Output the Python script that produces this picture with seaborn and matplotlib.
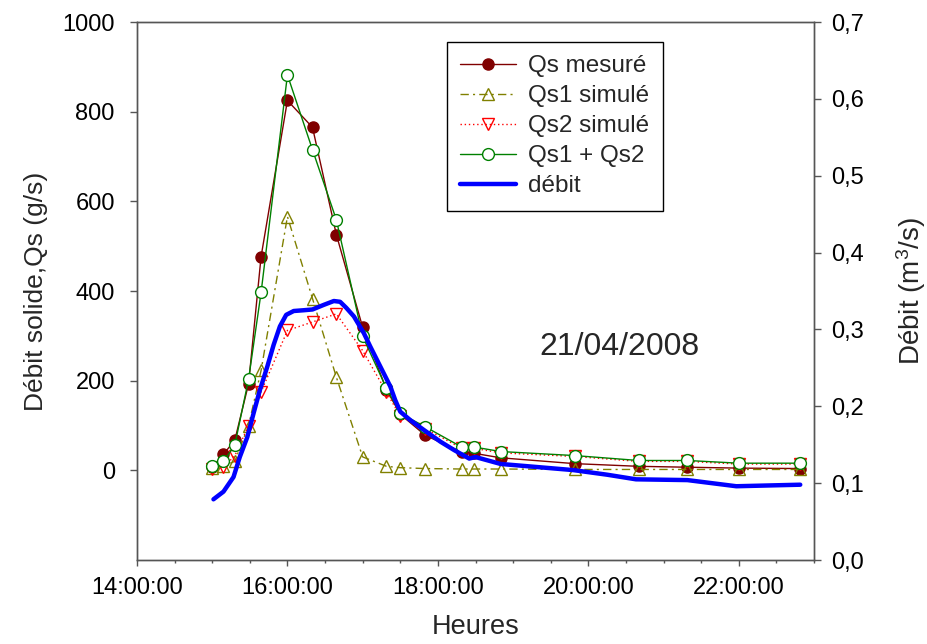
import pandas as pd
import seaborn as sns
import matplotlib.pyplot as plt
import matplotlib.dates as mdates
from matplotlib.ticker import FuncFormatter

sns.set_style("ticks")
plt.rcParams['font.family'] = ['Liberation Sans', 'DejaVu Sans']
plt.rcParams['font.size'] = 17
plt.rcParams['mathtext.fontset'] = 'custom'
plt.rcParams['mathtext.rm'] = 'Liberation Sans'
plt.rcParams['mathtext.default'] = 'rm'

jour = "2008-04-21"

# prelevements (g/s)
heures_qs = ["15:00", "15:09", "15:18", "15:29", "15:39", "16:00", "16:20", "16:39", "17:00", "17:19",
             "17:30", "17:50", "18:19", "18:29", "18:50", "19:49", "20:40", "21:19", "22:00", "22:49"]
qs_mesure = [7, 36, 67, 193, 477, 825, 765, 526, 319, 180, 125, 78, 41, 38, 28, 15, 9, 7, 5, 4]
qs1_simule = [5, 10, 20, 100, 223, 566, 383, 208, 30, 9, 6, 4, 3, 3, 3, 2, 2, 2, 2, 2]
qs2_simule = [3, 8, 32, 100, 175, 312, 331, 349, 267, 174, 121, 93, 49, 49, 39, 31, 20, 20, 14, 14]
qs1_qs2 = [9, 20, 56, 203, 397, 882, 715, 559, 299, 183, 127, 97, 52, 52, 42, 33, 22, 22, 16, 16]

# debit liquide (m3/s)
heures_debit = ["15:01", "15:09", "15:17", "15:22", "15:28", "15:33", "15:38", "15:44", "15:49", "15:54",
                "15:59", "16:05", "16:13", "16:20", "16:29", "16:37", "16:42", "16:47", "16:53", "17:01",
                "17:06", "17:14", "17:22", "17:26", "17:30", "17:38", "17:49", "18:02", "18:13", "18:25",
                "18:30", "18:50", "19:48", "20:15", "20:38", "21:19", "21:58", "22:49"]
debit = [0.079, 0.089, 0.108, 0.134, 0.160, 0.191, 0.221, 0.252, 0.280, 0.304,
         0.319, 0.324, 0.325, 0.326, 0.332, 0.337, 0.336, 0.328, 0.317, 0.295,
         0.278, 0.252, 0.226, 0.208, 0.193, 0.182, 0.169, 0.154, 0.143, 0.132,
         0.134, 0.125, 0.117, 0.111, 0.105, 0.104, 0.096, 0.098]

t_qs = pd.to_datetime([jour + " " + h for h in heures_qs])
t_debit = pd.to_datetime([jour + " " + h for h in heures_debit])

fig, ax = plt.subplots(figsize=(9.28, 6.44), dpi=100)
fig.subplots_adjust(left=0.1476, right=0.8772, bottom=0.1304, top=0.9658)

sns.lineplot(x=t_qs, y=qs_mesure, ax=ax, color='#800000', lw=1, marker='o', markersize=8,
             markerfacecolor='#800000', markeredgecolor='#800000', markeredgewidth=1, label='Qs mesuré', legend=False)
sns.lineplot(x=t_qs, y=qs1_simule, ax=ax, color='#808000', lw=1, linestyle=(0, (6, 3, 1.5, 3)), marker='^',
             markersize=9, markerfacecolor='none', markeredgecolor='#808000', markeredgewidth=1,
             label='Qs1 simulé', legend=False)
sns.lineplot(x=t_qs, y=qs2_simule, ax=ax, color='#ff0000', lw=1, linestyle=(0, (1, 2)), marker='v',
             markersize=9, markerfacecolor='none', markeredgecolor='#ff0000', markeredgewidth=1,
             label='Qs2 simulé', legend=False)
sns.lineplot(x=t_qs, y=qs1_qs2, ax=ax, color='#008000', lw=1, marker='o', markersize=8.5,
             markerfacecolor='white', markeredgecolor='#008000', markeredgewidth=1, label='Qs1 + Qs2', legend=False)

ax2 = ax.twinx()
sns.lineplot(x=t_debit, y=debit, ax=ax2, color='#0000ff', lw=3.2, label='débit', legend=False)

ax.set_xlim(pd.Timestamp(jour + " 14:00"), pd.Timestamp(jour + " 23:00"))
ax.xaxis.set_major_locator(mdates.HourLocator(byhour=range(14, 24, 2)))
ax.xaxis.set_minor_locator(mdates.MinuteLocator(byminute=[0, 30]))
ax.xaxis.set_major_formatter(mdates.DateFormatter('%H:%M:%S'))

ax.set_ylim(-200, 1000)
ax.set_yticks(range(0, 1001, 200))
ax2.set_ylim(0, 0.7)
ax2.set_yticks([i / 10 for i in range(8)])
ax2.yaxis.set_major_formatter(FuncFormatter(lambda v, p: f"{v:.1f}".replace('.', ',')))

for a in (ax, ax2):
    for s in a.spines.values():
        s.set_color('#555555')
        s.set_linewidth(1)
    a.tick_params(colors='#555555', labelcolor='black', labelsize=17, width=1)
ax.tick_params(axis='y', length=5, pad=11)
ax.tick_params(axis='x', which='major', length=4, pad=8)
ax.tick_params(axis='x', which='minor', length=2.5, width=1, color='#555555')
ax2.tick_params(axis='y', length=5, pad=7)

ax.set_xlabel("Heures", fontsize=19.5, labelpad=11)
ax.set_ylabel("Débit solide,Qs (g/s)", fontsize=19, labelpad=10)
ax2.set_ylabel("Débit (m$^3$/s)", fontsize=20, labelpad=22)

ax.text(pd.Timestamp(jour + " 20:25"), 276, "21/04/2008", fontsize=23, ha='center', va='center')

h1, l1 = ax.get_legend_handles_labels()
h2, l2 = ax2.get_legend_handles_labels()
leg = ax2.legend(h1 + h2, l1 + l2, loc='upper left', bbox_to_anchor=(0.458, 0.963), frameon=True,
                 fancybox=False, edgecolor='black', framealpha=1, handlelength=2.3, handletextpad=0.5,
                 labelspacing=0.33, borderpad=0.55, borderaxespad=0, fontsize=17.5)
leg.get_frame().set_linewidth(1.0)

plt.savefig("out.png", dpi=100)
